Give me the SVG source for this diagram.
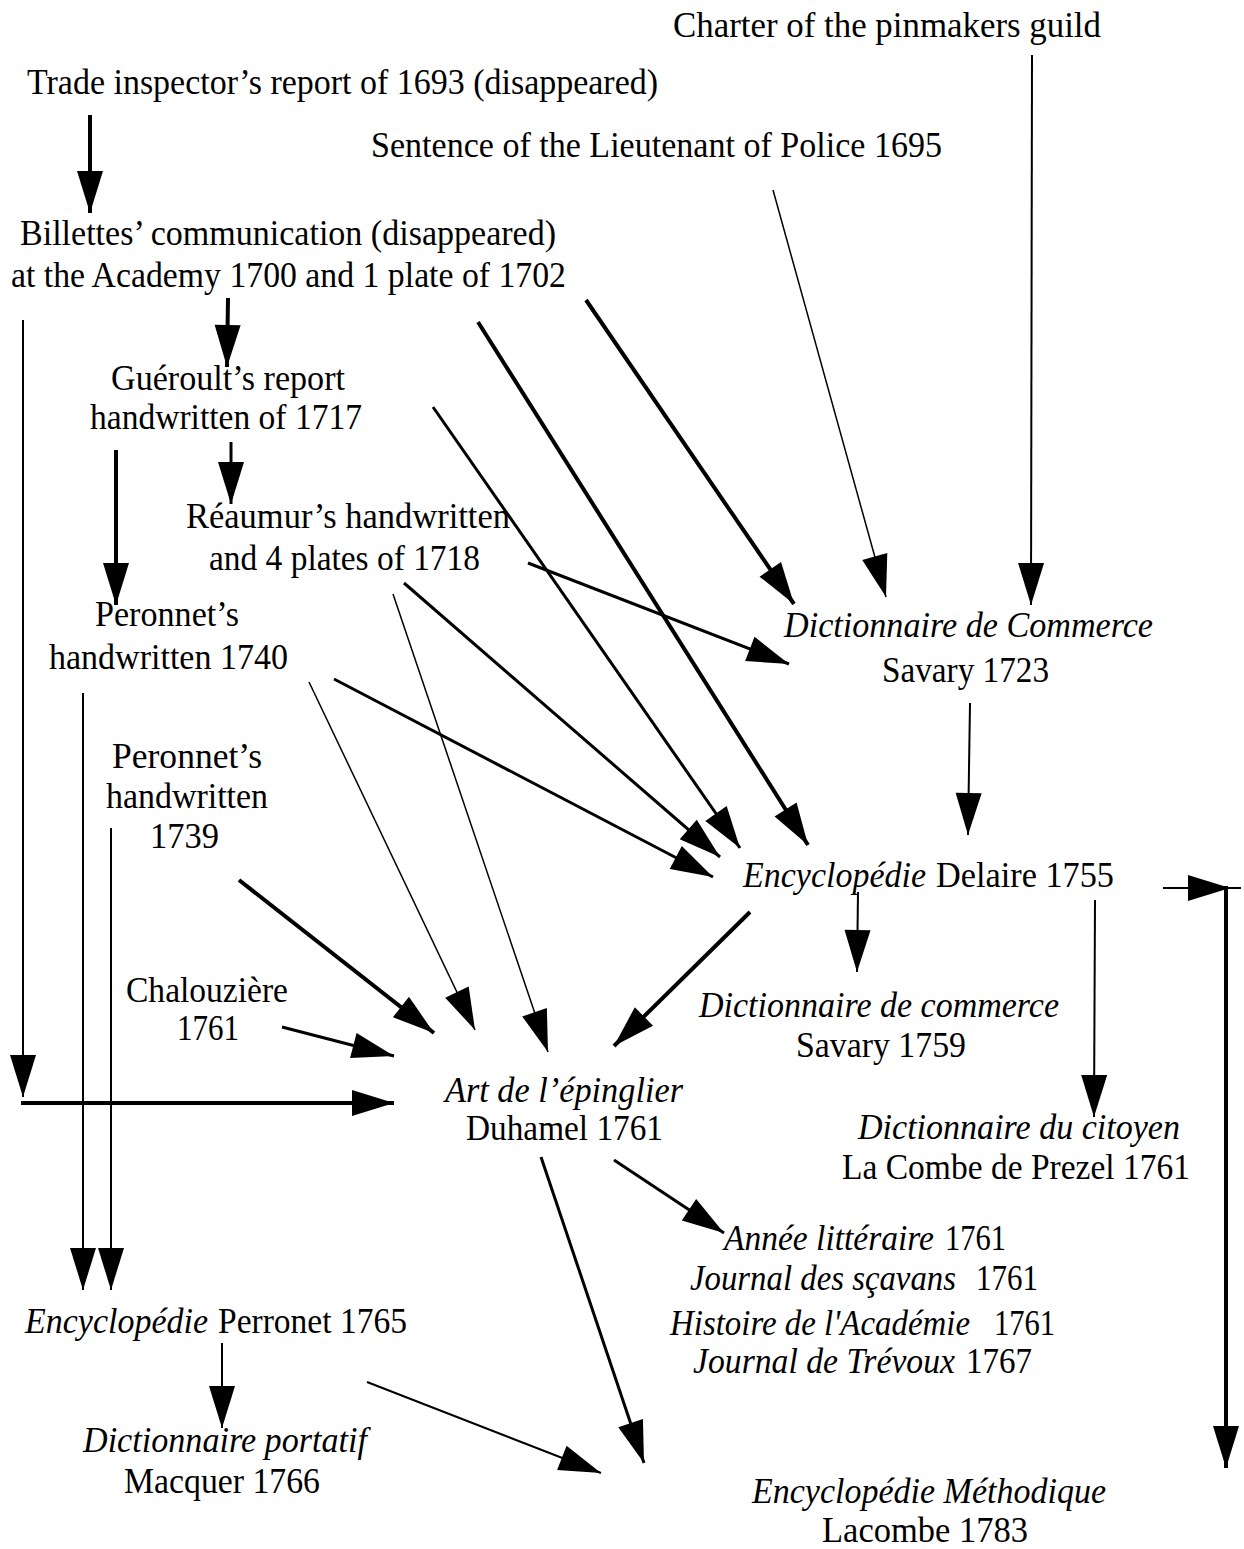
<svg xmlns="http://www.w3.org/2000/svg" width="1244" height="1549" viewBox="0 0 1244 1549">
<style>
.t{font-family:"Liberation Serif","Times New Roman",serif;font-size:36px;fill:#000}
.i{font-style:italic}
.c line{stroke:#000;stroke-width:2;marker-end:url(#ah)}
.c .w1{stroke-width:1.5}
.c .w3{stroke-width:3}
.c .w4{stroke-width:4}
.c .nm{marker-end:none}
</style>
<defs>
<marker id="ah" markerUnits="userSpaceOnUse" markerWidth="44" markerHeight="28" refX="42" refY="13" orient="auto" overflow="visible">
<path d="M0,0 L42,13 L0,26 Z" fill="#000"/>
</marker>
</defs>
<rect width="1244" height="1549" fill="#fff"/>
<g id="connectors" class="c">
<line class="w4" x1="90" y1="115" x2="90" y2="213"/>
<line class="w4" x1="228" y1="298" x2="227" y2="367"/>
<line class="w4" x1="586" y1="300" x2="794" y2="604"/>
<line class="w4" x1="478" y1="322" x2="808" y2="845"/>
<line x1="23" y1="320" x2="23" y2="1097"/>
<line class="w4" x1="21" y1="1103" x2="394" y2="1103"/>
<line class="w3" x1="231" y1="442" x2="231" y2="504"/>
<line class="w4" x1="116" y1="450" x2="116" y2="605"/>
<line class="w3" x1="433" y1="407" x2="740" y2="848"/>
<line x1="1032" y1="55" x2="1031" y2="605"/>
<line class="w1" x1="773" y1="190" x2="886" y2="597"/>
<line class="w3" x1="528" y1="563" x2="789" y2="664"/>
<line class="w3" x1="404" y1="583" x2="720" y2="857"/>
<line class="w1" x1="393" y1="594" x2="548" y2="1052"/>
<line class="w3" x1="334" y1="679" x2="713" y2="877"/>
<line class="w1" x1="309" y1="682" x2="475" y2="1030"/>
<line x1="83" y1="693" x2="83" y2="1290"/>
<line x1="111" y1="828" x2="111" y2="1290"/>
<line class="w4" x1="239" y1="880" x2="434" y2="1033"/>
<line class="w3" x1="282" y1="1027" x2="394" y2="1056"/>
<line x1="970" y1="703" x2="968" y2="835"/>
<line class="w4" x1="750" y1="912" x2="614" y2="1046"/>
<line x1="858" y1="892" x2="857" y2="972"/>
<line x1="1095" y1="900" x2="1094" y2="1117"/>
<line x1="1163" y1="888" x2="1230" y2="888"/>
<line class="nm" x1="1230" y1="888" x2="1241" y2="888"/>
<line class="w4" x1="1226" y1="886" x2="1226" y2="1468"/>
<line class="w3" x1="614" y1="1160" x2="724" y2="1233"/>
<line class="w3" x1="541" y1="1157" x2="644" y2="1463"/>
<line x1="222" y1="1343" x2="222" y2="1428"/>
<line x1="367" y1="1382" x2="601" y2="1473"/>
</g>
<g id="charter"><text class="t" x="673" y="37" textLength="428" lengthAdjust="spacingAndGlyphs">Charter of the pinmakers guild</text></g>
<g id="trade"><text class="t" x="27" y="94" textLength="631" lengthAdjust="spacingAndGlyphs">Trade inspector’s report of 1693 (disappeared)</text></g>
<g id="sentence"><text class="t" x="371" y="157" textLength="571" lengthAdjust="spacingAndGlyphs">Sentence of the Lieutenant of Police 1695</text></g>
<g id="billettes">
<text class="t" x="20" y="245" textLength="536" lengthAdjust="spacingAndGlyphs">Billettes’ communication (disappeared)</text>
<text class="t" x="11" y="287" textLength="555" lengthAdjust="spacingAndGlyphs">at the Academy 1700 and 1 plate of 1702</text>
</g>
<g id="gueroult">
<text class="t" x="111" y="390" textLength="234" lengthAdjust="spacingAndGlyphs">Guéroult’s report</text>
<text class="t" x="90" y="429" textLength="272" lengthAdjust="spacingAndGlyphs">handwritten of 1717</text>
</g>
<g id="reaumur">
<text class="t" x="186" y="528" textLength="324" lengthAdjust="spacingAndGlyphs">Réaumur’s handwritten</text>
<text class="t" x="209" y="570" textLength="271" lengthAdjust="spacingAndGlyphs">and 4 plates of 1718</text>
</g>
<g id="peronnet1740">
<text class="t" x="95" y="626" textLength="144" lengthAdjust="spacingAndGlyphs">Peronnet’s</text>
<text class="t" x="49" y="669" textLength="239" lengthAdjust="spacingAndGlyphs">handwritten 1740</text>
</g>
<g id="dict1723">
<text class="t i" x="784" y="637" textLength="369" lengthAdjust="spacingAndGlyphs">Dictionnaire de Commerce</text>
<text class="t" x="882" y="682" textLength="167" lengthAdjust="spacingAndGlyphs">Savary 1723</text>
</g>
<g id="delaire">
<text class="t" y="887"><tspan class="i" x="743" textLength="183" lengthAdjust="spacingAndGlyphs">Encyclopédie</tspan><tspan x="936" textLength="178" lengthAdjust="spacingAndGlyphs">Delaire 1755</tspan></text>
</g>
<g id="peronnet1739">
<text class="t" x="112" y="768" textLength="150" lengthAdjust="spacingAndGlyphs">Peronnet’s</text>
<text class="t" x="106" y="808" textLength="162" lengthAdjust="spacingAndGlyphs">handwritten</text>
<text class="t" x="150" y="848" textLength="69" lengthAdjust="spacingAndGlyphs">1739</text>
</g>
<g id="chalouziere">
<text class="t" x="126" y="1002" textLength="162" lengthAdjust="spacingAndGlyphs">Chalouzière</text>
<text class="t" x="177" y="1040" textLength="62" lengthAdjust="spacingAndGlyphs">1761</text>
</g>
<g id="art">
<text class="t i" x="445" y="1102" textLength="238" lengthAdjust="spacingAndGlyphs">Art de l’épinglier</text>
<text class="t" x="466" y="1140" textLength="197" lengthAdjust="spacingAndGlyphs">Duhamel 1761</text>
</g>
<g id="dict1759">
<text class="t i" x="699" y="1017" textLength="360" lengthAdjust="spacingAndGlyphs">Dictionnaire de commerce</text>
<text class="t" x="796" y="1057" textLength="170" lengthAdjust="spacingAndGlyphs">Savary 1759</text>
</g>
<g id="citoyen">
<text class="t i" x="858" y="1139" textLength="322" lengthAdjust="spacingAndGlyphs">Dictionnaire du citoyen</text>
<text class="t" x="842" y="1179" textLength="348" lengthAdjust="spacingAndGlyphs">La Combe de Prezel 1761</text>
</g>
<g id="journals">
<text class="t" y="1250"><tspan class="i" x="724" textLength="210" lengthAdjust="spacingAndGlyphs">Année littéraire</tspan><tspan x="945" textLength="61" lengthAdjust="spacingAndGlyphs">1761</tspan></text>
<text class="t" y="1290"><tspan class="i" x="690" textLength="266" lengthAdjust="spacingAndGlyphs">Journal des sçavans</tspan><tspan x="976" textLength="62" lengthAdjust="spacingAndGlyphs">1761</tspan></text>
<text class="t" y="1335"><tspan class="i" x="670" textLength="300" lengthAdjust="spacingAndGlyphs">Histoire de l'Académie</tspan><tspan x="994" textLength="61" lengthAdjust="spacingAndGlyphs">1761</tspan></text>
<text class="t" y="1373"><tspan class="i" x="693" textLength="262" lengthAdjust="spacingAndGlyphs">Journal de Trévoux</tspan><tspan x="966" textLength="66" lengthAdjust="spacingAndGlyphs">1767</tspan></text>
</g>
<g id="perronet1765">
<text class="t" y="1333"><tspan class="i" x="25" textLength="183" lengthAdjust="spacingAndGlyphs">Encyclopédie</tspan><tspan x="218" textLength="189" lengthAdjust="spacingAndGlyphs">Perronet 1765</tspan></text>
</g>
<g id="portatif">
<text class="t i" x="83" y="1452" textLength="284" lengthAdjust="spacingAndGlyphs">Dictionnaire portatif</text>
<text class="t" x="124" y="1493" textLength="196" lengthAdjust="spacingAndGlyphs">Macquer 1766</text>
</g>
<g id="methodique">
<text class="t i" x="752" y="1503" textLength="354" lengthAdjust="spacingAndGlyphs">Encyclopédie Méthodique</text>
<text class="t" x="822" y="1542" textLength="206" lengthAdjust="spacingAndGlyphs">Lacombe 1783</text>
</g>
</svg>
